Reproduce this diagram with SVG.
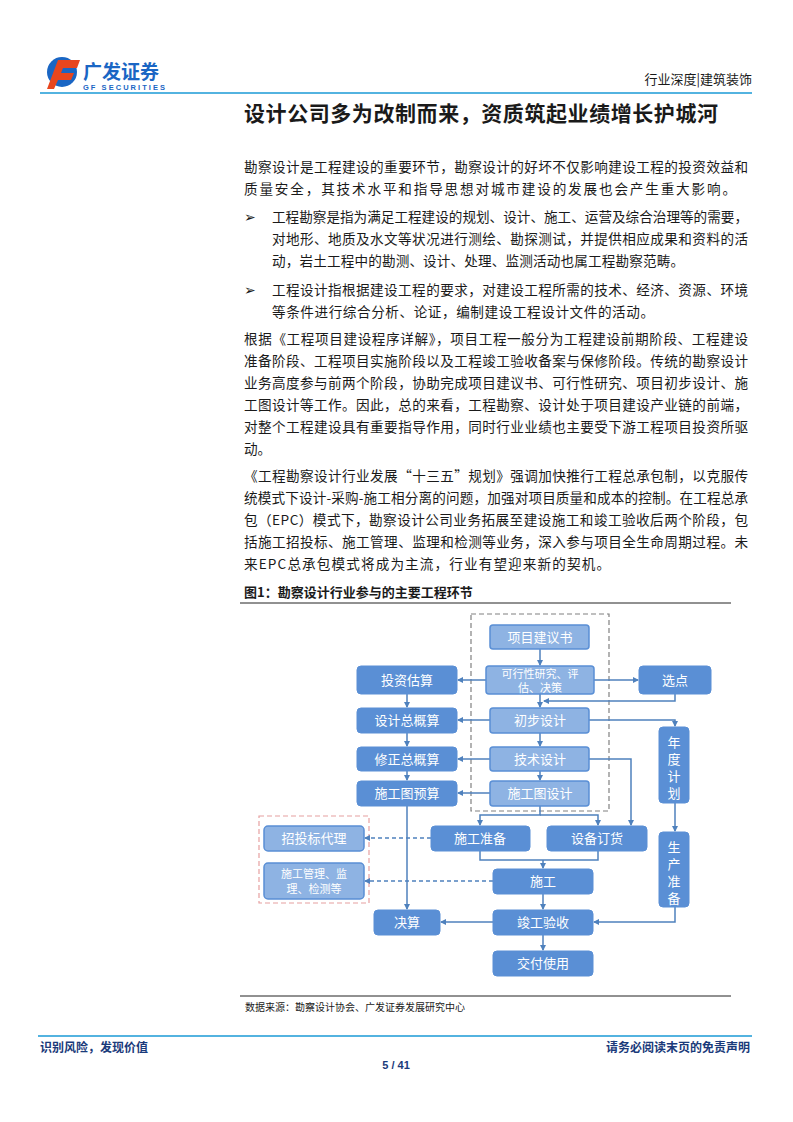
<svg xmlns="http://www.w3.org/2000/svg" width="793" height="1122" viewBox="0 0 793 1122">
<style>
.t{font-family:"Noto Sans CJK SC","Noto Sans",sans-serif;fill:#1a1a1a}
.b{font-size:13.6px}
.n{fill:#5A8FD5;stroke:#5A8FD5;stroke-width:1}
.l{fill:#8EB3E3;stroke:#5A8FD5;stroke-width:1.5}
.nt{font-family:"Noto Sans CJK SC",sans-serif;font-size:13px;fill:#fff;text-anchor:middle}
.s{font-size:11px}
.c{fill:none;stroke:#4F81BD;stroke-width:1.5}
.d{fill:none;stroke:#4F81BD;stroke-width:1.5;stroke-dasharray:4 3}
</style>
<defs><marker id="a" markerWidth="6" markerHeight="6" refX="5" refY="3" orient="auto" markerUnits="userSpaceOnUse"><path d="M0,0L6,3L0,6z" fill="#4F81BD"/></marker></defs>
<rect width="793" height="1122" fill="#fff"/>
<g id="header">
<circle cx="62" cy="72" r="15" fill="#1a66c4"/>
<path d="M58,60h22l-3,8h-14l-2,5h13l-3,7h-13l-4,9h-7z" fill="#e8461e"/>
<text x="83" y="79" font-family="Noto Sans CJK SC,sans-serif" font-size="19" font-weight="bold" fill="#1a66c4">广发证券</text>
<text x="83" y="90" font-family="Liberation Sans,sans-serif" font-size="7.5" font-weight="bold" fill="#1a66c4" textLength="82">GF SECURITIES</text>
<text x="752" y="84" class="t" font-size="13" text-anchor="end" fill="#333">行业深度|建筑装饰</text>
<line x1="40" y1="93" x2="752" y2="93" stroke="#1a9ad6" stroke-width="1.5"/>
</g>
<text x="244" y="121" class="t" font-size="21" font-weight="bold" textLength="474">设计公司多为改制而来，资质筑起业绩增长护城河</text>
<g id="body" class="t b">
<text x="244" y="172" textLength="504">勘察设计是工程建设的重要环节，勘察设计的好坏不仅影响建设工程的投资效益和</text>
<text x="244" y="194" textLength="492">质量安全，其技术水平和指导思想对城市建设的发展也会产生重大影响。</text>
<text x="244" y="222">➢</text>
<text x="272" y="222" textLength="476">工程勘察是指为满足工程建设的规划、设计、施工、运营及综合治理等的需要，</text>
<text x="272" y="244" textLength="476">对地形、地质及水文等状况进行测绘、勘探测试，并提供相应成果和资料的活</text>
<text x="272" y="266" textLength="412">动，岩土工程中的勘测、设计、处理、监测活动也属工程勘察范畴。</text>
<text x="244" y="295">➢</text>
<text x="272" y="295" textLength="476">工程设计指根据建设工程的要求，对建设工程所需的技术、经济、资源、环境</text>
<text x="272" y="317" textLength="382">等条件进行综合分析、论证，编制建设工程设计文件的活动。</text>
<text x="244" y="344" textLength="504">根据《工程项目建设程序详解》，项目工程一般分为工程建设前期阶段、工程建设</text>
<text x="244" y="366" textLength="504">准备阶段、工程项目实施阶段以及工程竣工验收备案与保修阶段。传统的勘察设计</text>
<text x="244" y="388" textLength="504">业务高度参与前两个阶段，协助完成项目建议书、可行性研究、项目初步设计、施</text>
<text x="244" y="410" textLength="504">工图设计等工作。因此，总的来看，工程勘察、设计处于项目建设产业链的前端，</text>
<text x="244" y="432" textLength="504">对整个工程建设具有重要指导作用，同时行业业绩也主要受下游工程项目投资所驱</text>
<text x="244" y="454">动。</text>
<text x="244" y="481" textLength="504">《工程勘察设计行业发展“十三五”规划》强调加快推行工程总承包制，以克服传</text>
<text x="244" y="503" textLength="504">统模式下设计-采购-施工相分离的问题，加强对项目质量和成本的控制。在工程总承</text>
<text x="244" y="525" textLength="504">包（EPC）模式下，勘察设计公司业务拓展至建设施工和竣工验收后两个阶段，包</text>
<text x="244" y="547" textLength="504">括施工招投标、施工管理、监理和检测等业务，深入参与项目全生命周期过程。未</text>
<text x="244" y="569" textLength="366">来EPC总承包模式将成为主流，行业有望迎来新的契机。</text>
</g>
<text x="244" y="597" class="t" font-size="13" font-weight="bold">图1：勘察设计行业参与的主要工程环节</text>
<line x1="240" y1="603" x2="731" y2="603" stroke="#222" stroke-width="1"/>
<rect x="471" y="614" width="138" height="197" fill="none" stroke="#808080" stroke-width="1.2" stroke-dasharray="5 3"/>
<rect x="259" y="816" width="110" height="87" fill="none" stroke="#E6A0A0" stroke-width="1.2" stroke-dasharray="5 3"/>
<g id="connectors">
<path class="c" d="M540,649V665" marker-end="url(#a)"/>
<path class="c" d="M486,680H458" marker-end="url(#a)"/>
<path class="c" d="M594,680H638" marker-end="url(#a)"/>
<path class="c" d="M675,694V701H544" marker-end="url(#a)"/>
<path class="c" d="M540,694V707" marker-end="url(#a)"/>
<path class="c" d="M407,694V707" marker-end="url(#a)"/>
<path class="c" d="M490,720H458" marker-end="url(#a)"/>
<path class="c" d="M589,720H675V726" marker-end="url(#a)"/>
<path class="c" d="M540,733V746" marker-end="url(#a)"/>
<path class="c" d="M407,733V746" marker-end="url(#a)"/>
<path class="c" d="M490,759H458" marker-end="url(#a)"/>
<path class="c" d="M589,759H631V825" marker-end="url(#a)"/>
<path class="c" d="M540,771V780" marker-end="url(#a)"/>
<path class="c" d="M407,771V780" marker-end="url(#a)"/>
<path class="c" d="M490,793H458" marker-end="url(#a)"/>
<path class="c" d="M540,806V815H480V825" marker-end="url(#a)"/>
<path class="c" d="M540,815H598V825" marker-end="url(#a)"/>
<path class="c" d="M675,803V831" marker-end="url(#a)"/>
<path class="c" d="M480,851V860H598V851M543,860V868" marker-end="url(#a)"/>
<path class="d" d="M431,838H365" marker-end="url(#a)"/>
<path class="d" d="M493,881H365" marker-end="url(#a)"/>
<path class="c" d="M407,806V909" marker-end="url(#a)"/>
<path class="c" d="M543,894V909" marker-end="url(#a)"/>
<path class="c" d="M675,907V922H594" marker-end="url(#a)"/>
<path class="c" d="M493,922H441" marker-end="url(#a)"/>
<path class="c" d="M543,935V950" marker-end="url(#a)"/>
</g>
<g id="n1"><rect class="l" x="490" y="625" width="99" height="24" rx="3"/><text class="nt" x="540" y="642">项目建议书</text></g>
<g id="n2"><rect class="l" x="486" y="666" width="108" height="28" rx="3"/><text class="nt s" x="540" y="678">可行性研究、评</text><text class="nt s" x="540" y="692">估、决策</text></g>
<g id="n3"><rect class="n" x="357" y="666" width="100" height="28" rx="4"/><text class="nt" x="407" y="685">投资估算</text></g>
<g id="n4"><rect class="n" x="639" y="666" width="72" height="28" rx="4"/><text class="nt" x="675" y="685">选点</text></g>
<g id="n5"><rect class="l" x="490" y="708" width="99" height="25" rx="3"/><text class="nt" x="540" y="725">初步设计</text></g>
<g id="n6"><rect class="n" x="357" y="708" width="100" height="25" rx="4"/><text class="nt" x="407" y="725">设计总概算</text></g>
<g id="n7"><rect class="n" x="659" y="727" width="30" height="76" rx="4"/><text class="nt" x="674" y="747">年</text><text class="nt" x="674" y="764">度</text><text class="nt" x="674" y="781">计</text><text class="nt" x="674" y="798">划</text></g>
<g id="n8"><rect class="l" x="490" y="747" width="99" height="24" rx="3"/><text class="nt" x="540" y="764">技术设计</text></g>
<g id="n9"><rect class="n" x="357" y="747" width="100" height="24" rx="4"/><text class="nt" x="407" y="764">修正总概算</text></g>
<g id="n10"><rect class="l" x="490" y="781" width="99" height="25" rx="3"/><text class="nt" x="540" y="798">施工图设计</text></g>
<g id="n11"><rect class="n" x="357" y="781" width="100" height="25" rx="4"/><text class="nt" x="407" y="798">施工图预算</text></g>
<g id="n12"><rect class="n" x="431" y="826" width="99" height="25" rx="4"/><text class="nt" x="480" y="843">施工准备</text></g>
<g id="n13"><rect class="n" x="547" y="826" width="100" height="25" rx="4"/><text class="nt" x="597" y="843">设备订货</text></g>
<g id="n14"><rect class="n" x="659" y="832" width="30" height="75" rx="4"/><text class="nt" x="674" y="852">生</text><text class="nt" x="674" y="869">产</text><text class="nt" x="674" y="886">准</text><text class="nt" x="674" y="903">备</text></g>
<g id="n15"><rect class="l" x="264" y="826" width="100" height="25" rx="4"/><text class="nt" x="314" y="843">招投标代理</text></g>
<g id="n16"><rect class="l" x="264" y="863" width="100" height="36" rx="4"/><text class="nt s" x="314" y="878">施工管理、监</text><text class="nt s" x="314" y="893">理、检测等</text></g>
<g id="n17"><rect class="n" x="493" y="869" width="100" height="25" rx="4"/><text class="nt" x="543" y="886">施工</text></g>
<g id="n18"><rect class="n" x="374" y="910" width="66" height="25" rx="4"/><text class="nt" x="407" y="927">决算</text></g>
<g id="n19"><rect class="n" x="493" y="910" width="100" height="25" rx="4"/><text class="nt" x="543" y="927">竣工验收</text></g>
<g id="n20"><rect class="n" x="493" y="951" width="100" height="25" rx="4"/><text class="nt" x="543" y="968">交付使用</text></g>
<line x1="240" y1="996" x2="731" y2="996" stroke="#222" stroke-width="1"/>
<text x="245" y="1011" class="t" font-size="10">数据来源：勘察设计协会、广发证券发展研究中心</text>
<g id="footer">
<line x1="38" y1="1036" x2="752" y2="1036" stroke="#1a9ad6" stroke-width="1.5"/>
<text x="40" y="1052" class="t" font-size="12" font-weight="bold" style="fill:#1a3a7a">识别风险，发现价值</text>
<text x="750" y="1052" class="t" font-size="12" font-weight="bold" text-anchor="end" style="fill:#1a3a7a">请务必阅读末页的免责声明</text>
<text x="396" y="1069" font-family="Liberation Sans,sans-serif" font-size="11" font-weight="bold" fill="#1a3a7a" text-anchor="middle">5 / 41</text>
</g>
</svg>
